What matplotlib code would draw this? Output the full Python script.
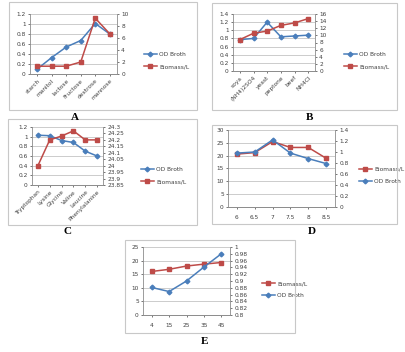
import matplotlib
matplotlib.use("Agg")
import matplotlib.pyplot as plt
from matplotlib.patches import Rectangle

W, H = 405, 352

# ---- data ----
a_cats = ["starch", "manitol", "lactose", "Fructose", "dextrose", "mannose"]
a_od = [0.10, 0.33, 0.54, 0.67, 1.01, 0.80]
a_bio = [1.3, 1.3, 1.3, 2.0, 9.3, 6.7]

b_cats = ["soya", "(NH4)2SO4", "yeast", "peptone", "beef", "NH4Cl"]
b_od = [0.77, 0.80, 1.20, 0.84, 0.86, 0.88]
b_bio = [8.8, 10.6, 11.2, 12.8, 13.5, 14.7]

c_cats = ["Tryptophan", "Lysine", "Glycine", "Valine", "Leucine", "Phenylalanine"]
c_od = [1.03, 1.02, 0.92, 0.88, 0.70, 0.60]
c_bio = [24.00, 24.20, 24.23, 24.27, 24.20, 24.20]

d_cats = ["6", "6.5", "7", "7.5", "8", "8.5"]
d_bio = [20.6, 21.2, 25.5, 23.2, 23.2, 19.0]
d_od = [0.98, 1.00, 1.22, 0.98, 0.88, 0.79]

e_cats = ["4", "15", "25", "35", "45"]
e_bio = [16.0, 16.8, 18.0, 18.7, 19.3]
e_od = [0.881, 0.869, 0.900, 0.941, 0.980]

BLUE = "#4a7ebb"
RED = "#be4b48"
GRID = "#b8b8b8"
TXT = "#404040"
FS = 4.2

fig = plt.figure(figsize=(W / 100, H / 100), dpi=100)


def frac(l, t, r, b):
    return [l / W, 1 - b / H, (r - l) / W, (b - t) / H]


def box(l, t, r, b):
    fig.patches.append(Rectangle((l / W, 1 - b / H), (r - l) / W, (b - t) / H,
                                 transform=fig.transFigure, fill=False,
                                 ec="#c8c8c8", lw=0.8))


def fmt(v):
    return ["%g" % t for t in v]


def panel(rect, cats, left, right, lcol, rcol, lname, rname,
          lticks, rticks, rot, leg_xy, leg_order):
    ax = fig.add_axes(frac(*rect))
    x = list(range(len(cats)))
    ax.set_xlim(-0.5, len(cats) - 0.5)
    ax.set_ylim(lticks[0], lticks[-1])
    ax.set_yticks(lticks)
    ax.set_yticklabels(fmt(lticks))
    ax.grid(axis="y", color=GRID, lw=0.5)
    ax.set_axisbelow(True)
    lmark = "D" if lcol == BLUE else "s"
    rmark = "D" if rcol == BLUE else "s"
    l1, = ax.plot(x, left, color=lcol, marker=lmark,
                  ms=2.4 if lmark == "D" else 3.2, lw=1.1)
    ax2 = ax.twinx()
    ax2.set_ylim(rticks[0], rticks[-1])
    ax2.set_yticks(rticks)
    ax2.set_yticklabels(fmt(rticks))
    l2, = ax2.plot(x, right, color=rcol, marker=rmark,
                   ms=2.4 if rmark == "D" else 3.2, lw=1.1)
    for a in (ax, ax2):
        a.spines["top"].set_visible(False)
        for s in ("left", "right", "bottom"):
            a.spines[s].set_color("#8c8c8c")
            a.spines[s].set_linewidth(0.6)
        a.tick_params(labelsize=FS, colors=TXT, length=1.5, width=0.5, pad=1.5)
    ax.spines["right"].set_visible(False)
    ax2.spines["left"].set_visible(False)
    ax.set_xticks(x)
    if rot:
        ax.set_xticklabels(cats, rotation=45, ha="right", rotation_mode="anchor")
    else:
        ax.set_xticklabels(cats)
        ax.tick_params(axis="x", pad=4)
    handles = {lname: l1, rname: l2}
    ax2.legend([handles[n] for n in leg_order], leg_order, loc="upper left",
               bbox_to_anchor=(leg_xy[0] / W, 1 - leg_xy[1] / H),
               bbox_transform=fig.transFigure, frameon=False,
               fontsize=FS, handlelength=2.2, labelspacing=1.2,
               borderpad=0, handletextpad=0.4, labelcolor=TXT)


# Panel A
box(9, 2, 197, 110)
panel((30, 14, 117, 74), a_cats, a_od, a_bio, BLUE, RED, "OD Broth", "Biomass/L",
      [0, 0.2, 0.4, 0.6, 0.8, 1.0, 1.2], [0, 2, 4, 6, 8, 10], True,
      (141, 49), ["OD Broth", "Biomass/L"])

# Panel B
box(212, 3, 397, 110)
panel((233, 14, 315, 71), b_cats, b_od, b_bio, BLUE, RED, "OD Broth", "Biomass/L",
      [0, 0.2, 0.4, 0.6, 0.8, 1.0, 1.2, 1.4], list(range(0, 17, 2)), True,
      (341, 49), ["OD Broth", "Biomass/L"])

# Panel C
box(8, 119, 197, 225)
panel((32, 127, 103, 185), c_cats, c_od, c_bio, BLUE, RED, "OD Broth", "Biomass/L",
      [0, 0.2, 0.4, 0.6, 0.8, 1.0, 1.2],
      [23.85, 23.9, 23.95, 24.0, 24.05, 24.1, 24.15, 24.2, 24.25, 24.3], True,
      (138, 164), ["OD Broth", "Biomass/L"])

# Panel D
box(212, 125, 397, 224)
panel((228, 130, 335, 207), d_cats, d_bio, d_od, RED, BLUE, "Biomass/L", "OD Broth",
      [0, 5, 10, 15, 20, 25, 30], [0, 0.2, 0.4, 0.6, 0.8, 1.0, 1.2, 1.4], False,
      (356, 164), ["Biomass/L", "OD Broth"])

# Panel E
box(125, 240, 295, 333)
panel((143, 247, 230, 315), e_cats, e_bio, e_od, RED, BLUE, "Biomass/L", "OD Broth",
      [0, 5, 10, 15, 20, 25],
      [0.8, 0.82, 0.84, 0.86, 0.88, 0.9, 0.92, 0.94, 0.96, 0.98, 1.0], False,
      (259, 278), ["Biomass/L", "OD Broth"])

for t, x, y in [("A", 75, 117), ("B", 310, 117), ("C", 68, 232),
                ("D", 312, 232), ("E", 205, 341)]:
    fig.text(x / W, 1 - y / H, t, ha="center", va="center", fontsize=8,
             fontweight="bold", family="Liberation Serif", color="black")

fig.savefig("out.png", dpi=100)
